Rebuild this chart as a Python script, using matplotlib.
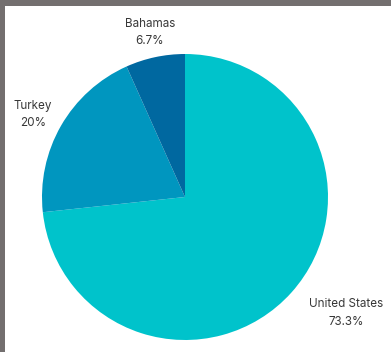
import numpy as np
import matplotlib
matplotlib.use("Agg")
import matplotlib.pyplot as plt
from matplotlib.patches import Rectangle

# datos del grafico
paises = ["United States", "Turkey", "Bahamas"]
porcentajes = [73.3, 20.0, 6.7]
etiquetas_pct = ["73.3%", "20%", "6.7%"]
colores = ["#00C3CB", "#0096BF", "#0068A0"]

W, H = 391, 352
fig = plt.figure(figsize=(W / 100, H / 100), dpi=100)
fig.patch.set_facecolor("white")

# ejes del pastel: centro (185,197), radio 143 px
cx, cy, r = 185, 197, 143
ax = fig.add_axes([(cx - r) / W, (H - cy - r) / H, 2 * r / W, 2 * r / H])
wedges, _ = ax.pie(porcentajes, colors=colores, startangle=90, counterclock=False,
                   wedgeprops=dict(linewidth=0))
ax.set_xlim(-1, 1)
ax.set_ylim(-1, 1)
ax.set_aspect("equal")
ax.axis("off")

# etiquetas fuera de cada porcion
distancias = [1.39, 1.21, 1.175]
giros = [6.3, 1.5, 0]
for w, pais, pct, d, g in zip(wedges, paises, etiquetas_pct, distancias, giros):
    ang = np.deg2rad((w.theta1 + w.theta2) / 2 + g)
    ax.text(d * np.cos(ang), d * np.sin(ang), pais + "\n" + pct,
            ha="center", va="center", fontsize=8.4, color="#383838",
            family="Inter", linespacing=1.6, clip_on=False)

# borde gris arriba e izquierda
fig.add_artist(Rectangle((0, 1 - 6 / H), 1, 6 / H, transform=fig.transFigure,
                         color="#736F6F", lw=0))
fig.add_artist(Rectangle((0, 0), 5 / W, 1, transform=fig.transFigure,
                         color="#736F6F", lw=0))

fig.savefig("out.png", dpi=100)
